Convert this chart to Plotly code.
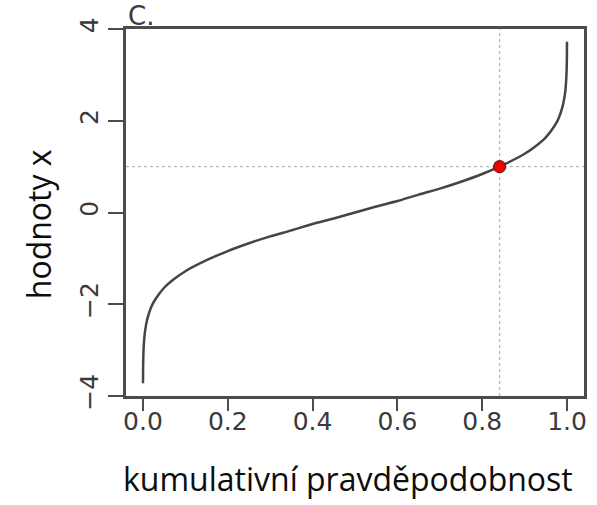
import plotly.graph_objects as go

# Standard normal quantile curve: cumulative probability -> value x
prob = [0.0001, 0.0003, 0.0007, 0.0015, 0.003, 0.005, 0.01, 0.02, 0.03, 0.05,
        0.075, 0.1, 0.15, 0.2, 0.25, 0.3, 0.35, 0.4, 0.45, 0.5,
        0.55, 0.6, 0.65, 0.7, 0.75, 0.8, 0.85, 0.9, 0.925, 0.95,
        0.97, 0.98, 0.99, 0.995, 0.997, 0.9985, 0.9993, 0.9997, 0.9999]
values = [-3.72, -3.43, -3.19, -2.97, -2.75, -2.58, -2.33, -2.05, -1.88, -1.64,
          -1.44, -1.28, -1.04, -0.84, -0.67, -0.52, -0.39, -0.25, -0.13, 0.0,
          0.13, 0.25, 0.39, 0.52, 0.67, 0.84, 1.04, 1.28, 1.44, 1.64,
          1.88, 2.05, 2.33, 2.58, 2.75, 2.97, 3.19, 3.43, 3.72]

# Highlighted point
point_p = 0.841
point_x = 1.0

x_ticks = [0.0, 0.2, 0.4, 0.6, 0.8, 1.0]
x_tick_text = ["0.0", "0.2", "0.4", "0.6", "0.8", "1.0"]
y_ticks = [-4, -2, 0, 2, 4]
y_tick_text = ["\u22124", "\u22122", "0", "2", "4"]

x_title = "kumulativní pravděpodobnost"
y_title = "hodnoty x"
panel_label = "C."

fig = go.Figure()

fig.add_trace(go.Scatter(
    x=prob, y=values, mode="lines",
    line=dict(color="#454545", width=2.5, shape="spline", smoothing=0.6),
    hoverinfo="skip", showlegend=False,
))

fig.add_trace(go.Scatter(
    x=[point_p], y=[point_x], mode="markers",
    marker=dict(color="#f20000", size=12, line=dict(color="#6a1a1a", width=1.2)),
    showlegend=False,
))

# Dotted reference lines through the highlighted point
fig.add_shape(type="line", xref="x", yref="paper", x0=point_p, x1=point_p, y0=0, y1=1,
              line=dict(color="#b8b8b8", width=1.3, dash="dot"), layer="below")
fig.add_shape(type="line", xref="paper", yref="y", x0=0, x1=1, y0=point_x, y1=point_x,
              line=dict(color="#b8b8b8", width=1.3, dash="dot"), layer="below")

tick_font = dict(family="DejaVu Sans", size=25, color="#3a3a3a")
title_font = dict(family="Open Sans", size=32, color="#0d0d0d")
axis_color = "#4c4c4c"

fig.update_layout(
    width=597, height=505,
    margin=dict(l=126, r=10, t=29, b=109),
    paper_bgcolor="white", plot_bgcolor="white",
    xaxis=dict(
        range=[-0.04, 1.04], tickvals=x_ticks, ticktext=x_tick_text,
        ticks="outside", ticklen=12, tickwidth=2.2, tickcolor=axis_color,
        showline=True, linecolor=axis_color, linewidth=2.6, mirror=True,
        showgrid=False, zeroline=False, tickfont=tick_font, ticklabelstandoff=-11,
    ),
    yaxis=dict(
        range=[-4, 4], tickvals=y_ticks, ticktext=y_tick_text, tickangle=-90,
        ticks="outside", ticklen=15, tickwidth=2.2, tickcolor=axis_color,
        showline=True, linecolor=axis_color, linewidth=2.6, mirror=True,
        showgrid=False, zeroline=False, tickfont=tick_font, ticklabelstandoff=0,
    ),
    annotations=[
        dict(text=panel_label, xref="paper", yref="paper", x=0.0, y=1.0,
             xanchor="left", yanchor="bottom", showarrow=False, yshift=-4,
             font=dict(family="DejaVu Sans", size=26, color="#3a3a3a")),
        # axis titles placed as free text below / left of the panel
        dict(text=x_title, xref="paper", yref="paper", x=0.485, y=0.0,
             xanchor="center", yanchor="middle", showarrow=False, yshift=-82,
             font=title_font),
        dict(text=y_title, xref="paper", yref="paper", x=0.0, y=0.468,
             xanchor="center", yanchor="middle", showarrow=False, xshift=-88,
             textangle=-90, font=title_font),
    ],
)

fig.write_html("out.html")
